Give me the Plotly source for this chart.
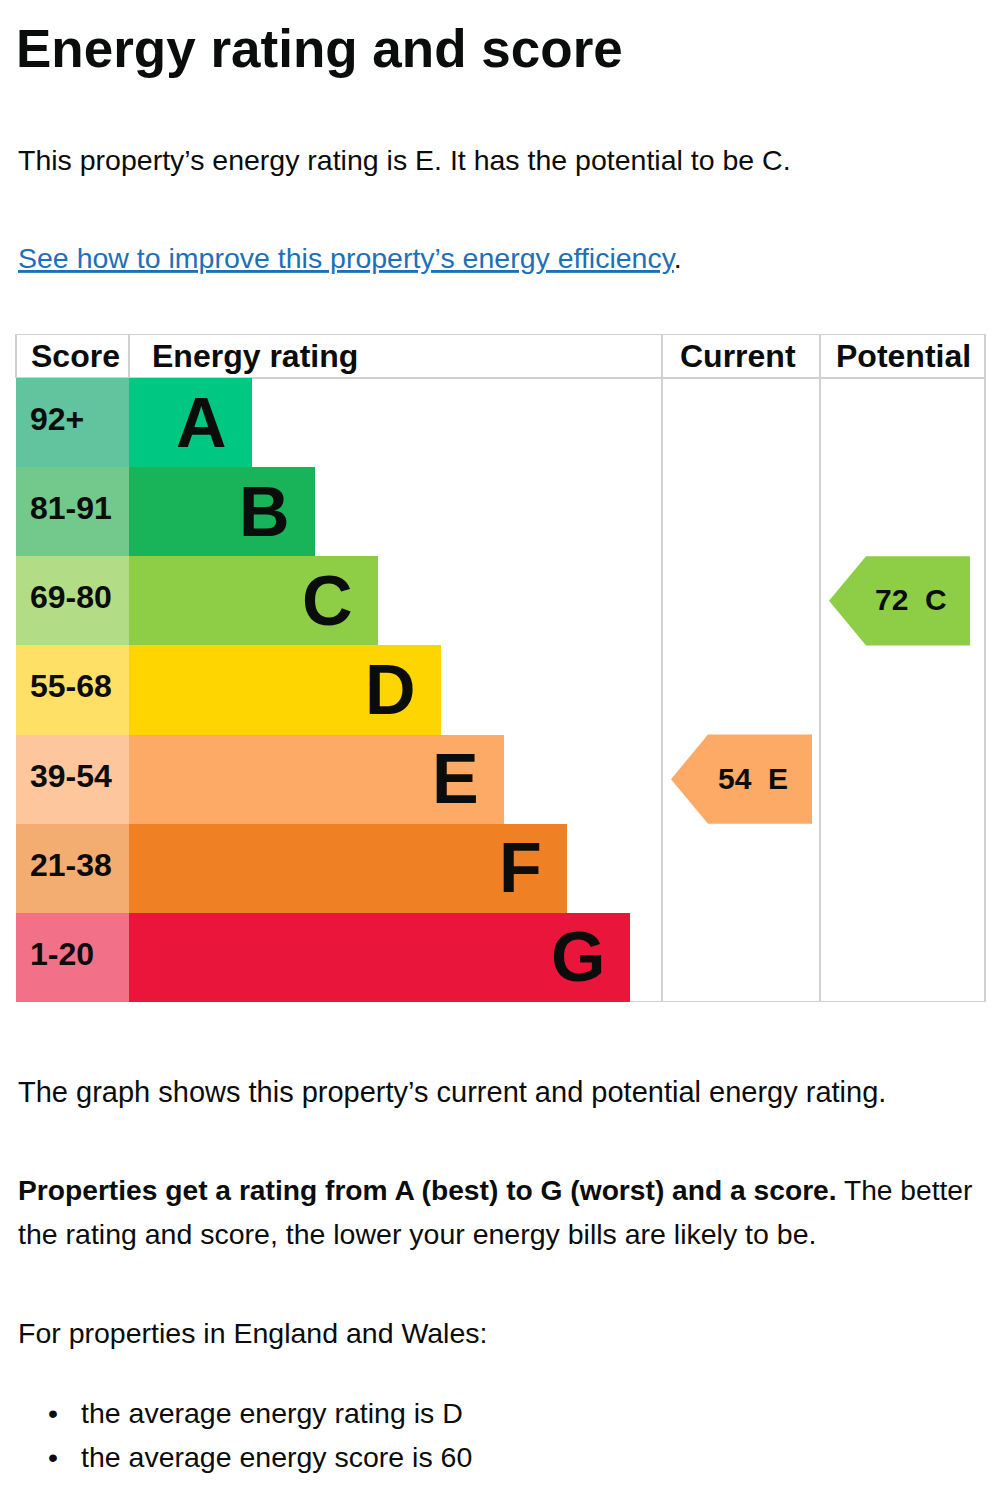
import plotly.graph_objects as go

# EPC bands, top (best) to bottom (worst)
ratings = ["A", "B", "C", "D", "E", "F", "G"]
score_ranges = ["92+", "81-91", "69-80", "55-68", "39-54", "21-38", "1-20"]
bar_length = [123, 186, 249, 312, 375, 438, 501]
band_colors = ["#00c781", "#19b459", "#8dce46", "#ffd500", "#fcaa65", "#ef8023", "#e9153b"]
score_colors = ["#62c49e", "#72c98b", "#b3dc86", "#ffe066", "#fec69d", "#f4ad70", "#f27189"]

current = {"score": 54, "rating": "E"}
potential = {"score": 72, "rating": "C"}

headers = ["Score", "Energy rating", "Current", "Potential"]

# layout (pixels, x axis runs 0..1000 across the page)
W, H = 1000, 1500
COL_SCORE = (16, 129)
COL_RATING = (129, 662)
COL_CUR = (662, 820)
COL_POT = (820, 985)
TABLE_TOP, TABLE_BOTTOM = 334, 1002
HEADER_H = 44
ROW_H = (TABLE_BOTTOM - TABLE_TOP - HEADER_H) / len(ratings)
head_top = -0.5 - HEADER_H / ROW_H

NARROW = "Liberation Sans, Arial"
BODY = "Liberation Sans, Arial"
GRID = "#cfd1d2"

rows = list(range(len(ratings)))

fig = go.Figure()

# score cells
fig.add_trace(go.Bar(
    orientation="h", y=rows, x=[COL_SCORE[1] - COL_SCORE[0]] * len(rows), base=COL_SCORE[0],
    width=1, marker=dict(color=score_colors, line=dict(width=0)), hoverinfo="skip",
))
# rating bars
fig.add_trace(go.Bar(
    orientation="h", y=rows, x=bar_length, base=COL_RATING[0],
    width=1, marker=dict(color=band_colors, line=dict(width=0)),
    customdata=ratings, hovertemplate="%{customdata}<extra></extra>",
))

# current / potential arrows
TIP = 37
for col, item in ((COL_CUR, current), (COL_POT, potential)):
    r = ratings.index(item["rating"])
    x0 = col[0] + 9
    x1 = x0 + 141
    fig.add_trace(go.Scatter(
        x=[x0, x0 + TIP, x1, x1, x0 + TIP, x0],
        y=[r, r - 0.5, r - 0.5, r + 0.5, r + 0.5, r],
        mode="lines", fill="toself", fillcolor=band_colors[r],
        line=dict(width=0, color=band_colors[r]), hoverinfo="skip",
    ))
    fig.add_annotation(
        x=x0 + 82, y=r - 0.01, xref="x", yref="y", text=f"<b>{item['score']}  {item['rating']}</b>",
        showarrow=False, xanchor="center", yanchor="middle",
        font=dict(family=NARROW, size=30, color="#0b0c0c"),
    )

# band letters and score labels
for i, (letter, rng) in enumerate(zip(ratings, score_ranges)):
    fig.add_annotation(
        x=COL_RATING[0] + bar_length[i] - 23, y=i, xref="x", yref="y",
        text=f"<b>{letter}</b>", showarrow=False, xanchor="right", yanchor="middle",
        font=dict(family=NARROW, size=70, color="#0b0c0c"),
    )
    fig.add_annotation(
        x=COL_SCORE[0] + 12, y=i - 0.04, xref="x", yref="y", text=f"<b>{rng}</b>",
        showarrow=False, xanchor="left", yanchor="middle",
        font=dict(family=NARROW, size=32, color="#0b0c0c"),
    )

# header row
head_mid = (head_top - 0.5) / 2
for text, x, anchor in ((headers[0], COL_SCORE[0] + 13, "left"),
                        (headers[1], COL_RATING[0] + 21, "left"),
                        (headers[2], COL_CUR[1] - 22, "right"),
                        (headers[3], COL_POT[1] - 12, "right")):
    fig.add_annotation(
        x=x, y=head_mid, xref="x", yref="y", text=f"<b>{text}</b>", showarrow=False,
        xanchor=anchor, yanchor="middle", font=dict(family=NARROW, size=32, color="#0b0c0c"),
    )

# table lines
for y in (head_top, -0.5, 6.5):
    fig.add_shape(type="line", x0=COL_SCORE[0], x1=COL_POT[1], y0=y, y1=y,
                  xref="x", yref="y", line=dict(color=GRID, width=2), layer="below")
for x in (COL_SCORE[0], COL_RATING[0]):
    fig.add_shape(type="line", x0=x, x1=x, y0=head_top, y1=-0.5,
                  xref="x", yref="y", line=dict(color=GRID, width=2), layer="below")
for x in (COL_CUR[0], COL_POT[0], COL_POT[1]):
    fig.add_shape(type="line", x0=x, x1=x, y0=head_top, y1=6.5,
                  xref="x", yref="y", line=dict(color=GRID, width=2), layer="below")


# page text
def page_text(text, py, size, bold=False, x=16):
    fig.add_annotation(
        x=x / W, y=1 - py / H, xref="paper", yref="paper", text=f"<b>{text}</b>" if bold else text,
        showarrow=False, xanchor="left", yanchor="middle", align="left",
        font=dict(family=BODY, size=size, color="#0b0c0c"),
    )


page_text("Energy rating and score", 48, 53, bold=True, x=14)
page_text("This property’s energy rating is E. It has the potential to be C.", 160, 28.5)
page_text('<span style="color:#1d70b8"><u>See how to improve this property’s energy efficiency</u></span>.', 258, 28.5)
page_text("The graph shows this property’s current and potential energy rating.", 1092, 29)
page_text("<b>Properties get a rating from A (best) to G (worst) and a score.</b> The better", 1190, 28.2)
page_text("the rating and score, the lower your energy bills are likely to be.", 1234, 28.5)
page_text("For properties in England and Wales:", 1333, 28.5)
page_text("•", 1413, 28.5, x=46)
page_text("the average energy rating is D", 1413, 28.5, x=79)
page_text("•", 1457, 28.5, x=46)
page_text("the average energy score is 60", 1457, 28.5, x=79)

fig.update_layout(
    width=W, height=H, margin=dict(l=0, r=0, t=0, b=0),
    paper_bgcolor="white", plot_bgcolor="white",
    showlegend=False, barmode="overlay", bargap=0,
    xaxis=dict(range=[0, W], domain=[0, 1], visible=False, fixedrange=True),
    yaxis=dict(range=[6.5, head_top], domain=[1 - TABLE_BOTTOM / H, 1 - TABLE_TOP / H],
               visible=False, fixedrange=True),
)

fig.write_html("out.html", config={"displayModeBar": False},
               post_script="document.body.style.margin='0';")
